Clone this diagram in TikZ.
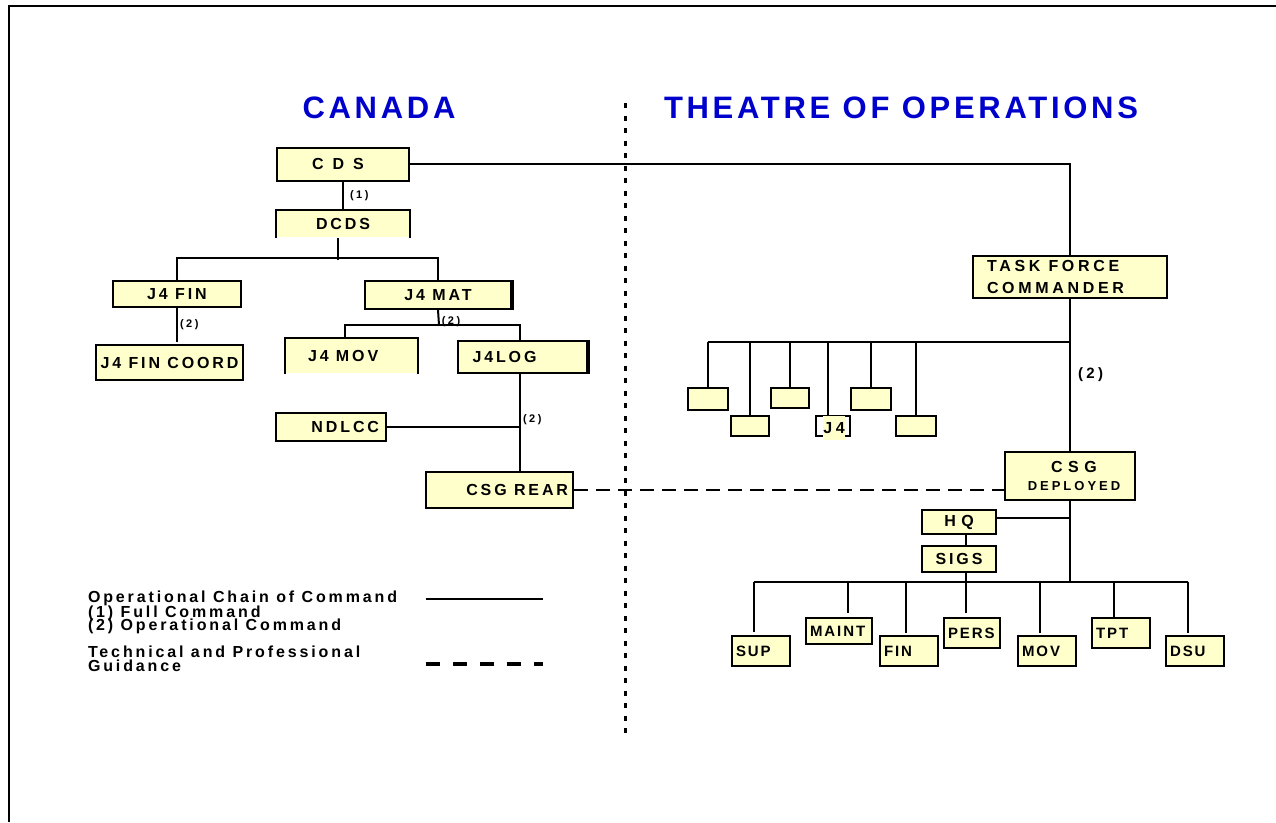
\documentclass[tikz,border=0pt]{standalone}
\usepackage{fontspec}
\setmainfont{Liberation Sans}
\newfontfamily\boxfont{Liberation Sans}[LetterSpace=23]
\newfontfamily\nodefont{Liberation Sans}[LetterSpace=18]
\newfontfamily\leaffont{Liberation Sans}[LetterSpace=13]
\newfontfamily\midboxfont{Liberation Sans}[LetterSpace=34]
\newfontfamily\wideboxfont{Liberation Sans}[LetterSpace=56]
\newfontfamily\headfont{Liberation Sans}[LetterSpace=12]
\usepackage{tikz}
\usetikzlibrary{positioning}
\definecolor{boxyellow}{HTML}{FFFFCC}
\definecolor{headblue}{HTML}{0000CC}

\begin{document}
\begin{tikzpicture}[x=1pt, y=-1pt, line width=2pt,
 box/.style={draw, fill=boxyellow, inner sep=0pt, font=\nodefont\bfseries\fontsize{16}{18}\selectfont},
 sbox/.style={draw, fill=boxyellow, inner sep=0pt},
 leaf/.style={box, font=\leaffont\bfseries\fontsize{15}{16}\selectfont},
 lbl/.style={inner sep=2pt, font=\boxfont\bfseries\fontsize{11}{13}\selectfont},
 head/.style={text=headblue, inner sep=0pt, font=\headfont\bfseries\fontsize{31}{36}\selectfont},
 legend/.style={inner sep=0pt, anchor=base west, font=\nodefont\bfseries\fontsize{16}{14}\selectfont}]
\useasboundingbox (0,0) rectangle (1276,822);
\draw[line width=1.5pt] (1276,6) -- (9,6) -- (9,822);
\node[head] (canada) at (379,108) {CANADA};
\node[head] (theatre) at (901,108) {THEATRE OF OPERATIONS};
\draw[line width=3pt, dash pattern=on 5pt off 7.5pt] (625,103) -- (625,738);
% Canada
\node[box, minimum width=132, minimum height=33, font=\wideboxfont\bfseries\fontsize{16}{18}\selectfont] (cds) at (343,164) {\hspace*{-10pt}CDS};
\node[box, draw=none, minimum width=132, minimum height=26] (dcds) at (343,224) {DCDS};
\draw (dcds.south west) -- (dcds.north west) -- (dcds.north east) -- (dcds.south east);
\draw (cds) -- node[lbl, right=4pt] {(1)} (dcds);
\coordinate (dbus) at (338,258);
\draw (dbus |- dcds.south) -- ([yshift=-2pt]dbus);
\node[box, minimum width=128, minimum height=26] (j4fin) at (177,294) {J4 FIN};
\node[box, minimum width=146, minimum height=28] (j4mat) at (438,295) {J4 MAT};
\draw[line width=3.5pt] (j4mat.north east) -- (j4mat.south east);
\draw (j4fin) |- (dbus) -| (j4mat);
\node[box, minimum width=147, minimum height=35] (j4fincoord) at (169.5,362.5) {J4 FIN COORD};
\draw (j4fin.south) -- node[lbl, right] {(2)} ++(0,34);
\coordinate (mbus) at (439,325);
\draw (j4mat.south) -- node[lbl, right, pos=.8] {(2)} (mbus);
\node[box, draw=none, minimum height=34, inner xsep=22] (j4mov) at (351.5,356) {\makebox[87pt][l]{J4 MOV}};
\draw (j4mov.south west) -- (j4mov.north west) -- (j4mov.north east) -- (j4mov.south east);
\node[box, minimum height=32, inner xsep=14.5] (j4log) at (522.5,357) {\makebox[100pt][l]{J4LOG}};
\draw[line width=3.5pt] (j4log.north east) -- (j4log.south east);
\draw ([xshift=-6.5pt]j4mov.north) |- (mbus) -| ([xshift=-2.5pt]j4log.north);
\node[box, minimum height=28, inner xsep=7] (ndlcc) at (331,427) {\makebox[96pt][r]{NDLCC}};
\node[box, minimum height=36, inner xsep=5] (csgrear) at (499.5,490) {\makebox[137pt][r]{CSG REAR}};
\coordinate (lx) at ([xshift=-2.5pt]j4log.south);
\draw (lx) -- node[lbl, right, pos=.47] {(2)} (lx |- csgrear.north);
\draw (ndlcc) -- (ndlcc -| lx);
% theatre
\node[box, minimum height=42, inner xsep=14, font=\boxfont\bfseries\fontsize{16}{21.7}\selectfont] (tfc) at (1070,277) {\parbox{166pt}{TASK FORCE\\COMMANDER}};
\node[box, minimum width=130, minimum height=48, align=center] (csgdep) at (1070,476) {\hspace*{8pt}{\midboxfont CSG}\\\hspace*{8pt}{\boxfont\fontsize{13}{15}\selectfont DEPLOYED}};
\draw (cds) -| (tfc);
\draw (tfc) -- node[lbl, right=5pt, font=\boxfont\bfseries\fontsize{15}{17}\selectfont] {(2)} (csgdep);
\draw[dash pattern=on 14pt off 8pt] (csgrear) -- (csgrear -| csgdep.west);
\coordinate (tbus) at (1070,342);
\foreach \i/\x/\y/\w/\h in {1/708/399/40/22, 2/750/426/38/20, 3/790/398/38/20, 5/871/399/40/22, 6/916/426/40/20}{
 \node[sbox, minimum width=\w, minimum height=\h] (sb\i) at (\x,\y) {};
 \draw (sb\i) -- (sb\i |- tbus);}
\node[sbox, fill=none, minimum width=34, minimum height=20] (sb4) at (833,426) {};
\draw ([xshift=-5pt]sb4.north) -- ([xshift=-5pt]sb4.north |- tbus);
\node[lbl, fill=boxyellow, inner xsep=0pt, minimum height=24, font=\boxfont\bfseries\fontsize{16}{18}\selectfont] (j4) at (834,428) {J4};
\draw (tbus) -- (tbus -| sb1);
\node[box, minimum width=74, minimum height=24, font=\midboxfont\bfseries\fontsize{16}{18}\selectfont] (hq) at (959,522) {HQ};
\node[box, minimum width=74, minimum height=26] (sigs) at (959,559) {SIGS};
\coordinate (cbus) at (1070,582);
\draw (csgdep) -- (cbus);
\draw ([yshift=4pt]hq.east) -- ([yshift=4pt]hq.east -| cbus);
\draw ([xshift=7pt]hq.south) -- ([xshift=7pt]sigs.north);
\draw ([xshift=7pt]sigs.south) -- ([xshift=7pt]sigs.south |- cbus);
\foreach \n/\t/\x/\y/\w/\h/\s/\g in {sup/SUP/761/651/58/30/-7/3, maint/MAINT/839/631/66/26/9/4, fin/FIN/909/651/58/30/-3/2, pers/PERS/972/633/56/30/-6/4, mov/MOV/1047/651/58/30/-7/2, tpt/TPT/1121/633/58/30/-7/0, dsu/DSU/1195/651/58/30/-7/2}{
 \pgfmathsetmacro\tw{\w-8}
 \node[leaf, minimum height=\h, inner xsep=4] (\n) at (\x,\y) {\makebox[\tw pt][l]{\t}};
 \draw[shorten <=\g pt] ([xshift=\s pt]\n.north) -- ([xshift=\s pt]\n.north |- cbus);}
\draw ([xshift=-7pt]sup.north |- cbus) -- ([xshift=-7pt]dsu.north |- cbus);
% legend
\node[legend] (leg1) at (87,602.7) {Operational Chain of Command};
\node[legend] (leg2) at (87,617) {(1) Full Command};
\node[legend] (leg3) at (87,630.7) {(2) Operational Command};
\node[legend] (leg4) at (87,657.7) {Technical and Professional};
\node[legend] (leg5) at (87,671) {Guidance};
\coordinate (ls) at (426,599);
\draw (ls) -- ++(117,0);
\coordinate (ld) at (426,664);
\draw[line width=4pt, dash pattern=on 14pt off 13pt] (ld) -- ++(117,0);
\end{tikzpicture}
\end{document}
